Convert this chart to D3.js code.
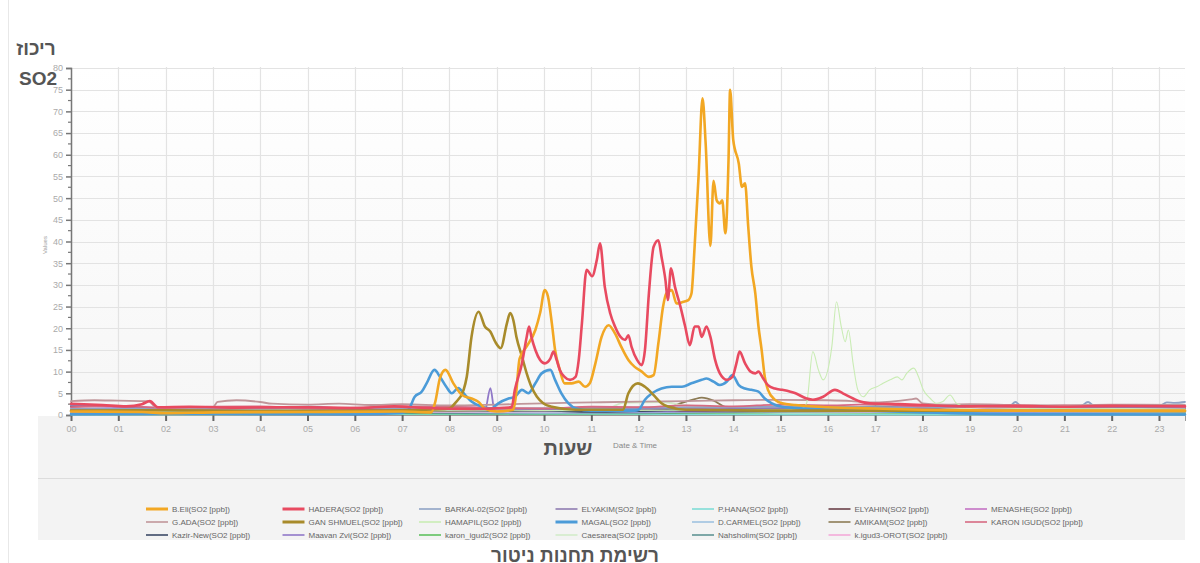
<!DOCTYPE html>
<html>
<head>
<meta charset="utf-8">
<script src="https://cdn.jsdelivr.net/npm/d3@7"></script>
<style>
  html, body { margin: 0; padding: 0; background: #fff; }
  svg { display: block; font-family: "Liberation Sans", Arial, "DejaVu Sans", sans-serif; }
</style>
</head>
<body>
<svg id="chart" width="1200" height="563"></svg>
<script>
// SO2 readings [ppb] per monitoring station, as [time, value]
const bEli = [["00:00",0.8],["01:30",0.7],["02:00",0.4],["03:00",0.6],["05:00",0.7],["07:00",0.8],["07:37",0.6],["07:42",3.0],["07:48",8.5],["07:55",10.4],["08:05",7.3],["08:16",4.6],["08:28",3.8],["08:37",3.0],["08:45",1.5],["09:00",0.8],["09:21",1.2],["09:24",4.0],["09:29",13.0],["09:38",15.8],["09:49",19.6],["09:55",23.5],["10:01",28.8],["10:05",27.3],["10:10",21.0],["10:14",15.0],["10:20",10.4],["10:26",7.3],["10:35",7.3],["10:44",7.7],["10:52",6.5],["10:58",7.3],["11:05",11.8],["11:13",18.0],["11:22",20.7],["11:30",18.8],["11:38",15.7],["11:47",12.7],["11:55",11.1],["12:04",10.0],["12:13",8.8],["12:19",9.2],["12:25",16.5],["12:31",25.0],["12:35",28.0],["12:42",28.8],["12:48",25.7],["12:55",26.0],["13:03",26.5],["13:07",28.0],["13:11",38.8],["13:16",55.0],["13:21",73.0],["13:25",62.6],["13:31",39.0],["13:35",54.0],["13:39",49.5],["13:43",48.8],["13:46",49.5],["13:50",41.9],["13:54",58.8],["13:56",75.0],["14:00",63.4],["14:07",58.0],["14:11",52.6],["14:15",53.4],["14:19",43.4],["14:23",34.2],["14:28",28.0],["14:32",20.4],["14:36",15.0],["14:40",8.8],["14:44",5.8],["14:53",3.5],["15:02",2.7],["15:19",2.3],["16:00",1.8],["17:00",1.5],["18:00",1.2],["20:00",1.0],["23:33",1.0]];
const hadera = [["00:00",2.6],["00:40",2.3],["01:10",2.0],["01:30",2.5],["01:40",3.2],["01:50",1.8],["02:30",1.9],["03:30",1.7],["05:00",1.8],["06:00",1.6],["06:50",2.0],["07:30",1.6],["08:30",1.4],["09:15",1.7],["09:19",1.9],["09:23",5.8],["09:32",11.9],["09:38",18.0],["09:41",20.4],["09:44",18.0],["09:49",15.0],["09:55",12.7],["10:01",11.9],["10:08",13.0],["10:12",14.6],["10:16",12.7],["10:20",10.4],["10:26",8.8],["10:33",8.1],["10:40",8.8],["10:44",12.7],["10:48",21.0],["10:54",33.5],["11:01",32.0],["11:07",35.8],["11:11",39.6],["11:17",29.6],["11:24",23.4],["11:30",20.4],["11:37",18.0],["11:43",17.3],["11:47",18.4],["11:51",15.7],["11:58",12.7],["12:04",11.5],["12:08",15.0],["12:13",28.0],["12:19",38.8],["12:25",40.3],["12:29",36.5],["12:34",31.1],["12:37",26.5],["12:41",33.8],["12:46",29.6],["12:53",25.0],["12:59",20.4],["13:05",16.1],["13:11",20.4],["13:16",20.4],["13:20",18.0],["13:26",20.4],["13:31",18.0],["13:37",12.7],["13:43",9.6],["13:52",8.1],["13:59",8.8],["14:04",11.9],["14:08",14.6],["14:15",11.9],["14:22",10.0],["14:28",9.6],["14:32",10.0],["14:38",8.4],["14:44",6.9],["14:53",6.1],["15:02",5.8],["15:19",5.0],["15:33",3.8],["15:41",3.5],["15:54",4.2],["16:09",5.8],["16:19",5.0],["16:32",3.8],["16:41",3.1],["16:53",2.7],["17:30",2.5],["18:00",2.3],["19:00",2.0],["20:00",2.1],["21:00",1.9],["22:00",2.1],["23:33",2.0]];
const ganShmuel = [["00:00",1.0],["02:00",1.1],["04:00",0.9],["06:00",1.0],["07:30",1.2],["08:00",1.5],["08:07",2.7],["08:18",5.8],["08:22",8.8],["08:28",18.0],["08:37",23.8],["08:45",20.4],["08:52",19.2],["08:58",16.9],["09:05",15.4],["09:13",21.2],["09:17",23.5],["09:21",21.9],["09:25",18.0],["09:32",13.5],["09:38",9.6],["09:44",6.5],["09:51",4.2],["09:59",2.7],["10:10",1.9],["10:40",1.2],["11:40",1.2],["11:47",5.0],["11:59",7.3],["12:08",6.5],["12:19",4.6],["12:29",2.7],["12:38",1.9],["13:00",1.2],["15:00",1.0],["18:00",1.0],["23:33",0.9]];
const magal = [["00:00",0.2],["03:00",0.3],["06:00",0.2],["07:00",0.5],["07:08",1.2],["07:16",4.2],["07:25",5.4],["07:31",7.3],["07:41",10.4],["07:48",8.8],["07:56",6.5],["08:03",5.0],["08:11",6.2],["08:20",4.6],["08:28",3.1],["08:41",1.9],["08:53",1.5],["09:02",2.7],["09:15",3.8],["09:23",4.2],["09:32",5.8],["09:40",5.0],["09:49",7.3],["09:57",9.6],["10:08",10.4],["10:14",8.1],["10:22",5.0],["10:31",2.7],["10:41",1.5],["11:00",1.0],["11:55",1.0],["12:00",1.2],["12:08",3.5],["12:17",5.0],["12:29",6.1],["12:42",6.5],["12:55",6.5],["13:07",7.3],["13:20",8.1],["13:26",8.4],["13:35",7.7],["13:43",6.9],["13:52",7.7],["13:59",9.2],["14:07",6.9],["14:15",6.1],["14:23",5.8],["14:32",5.4],["14:40",3.8],["14:49",2.7],["15:02",1.9],["15:30",1.5],["16:00",1.3],["18:00",0.6],["20:00",0.2],["23:33",0.1]];
const hamapil = [["00:00",0.8],["05:00",0.9],["10:00",1.0],["15:00",1.2],["15:27",1.5],["15:33",2.7],["15:41",14.6],["15:48",10.4],["15:54",8.1],["16:05",15.7],["16:11",26.1],["16:17",20.4],["16:22",16.9],["16:26",19.6],["16:32",11.9],["16:38",5.8],["16:45",4.2],["16:53",5.8],["17:02",6.5],["17:10",7.3],["17:19",8.1],["17:28",8.8],["17:34",8.1],["17:40",9.6],["17:49",10.8],["17:55",8.8],["18:01",5.8],["18:10",3.8],["18:18",2.7],["18:26",3.1],["18:35",4.6],["18:43",2.7],["18:56",1.9],["20:00",1.5],["23:33",1.4]];
const gAda = [["00:00",3.2],["00:30",3.4],["01:00",3.3],["01:38",3.2],["01:48",1.8],["02:30",1.7],["03:00",1.8],["03:06",3.0],["03:30",3.4],["04:00",3.0],["04:15",2.6],["05:00",2.4],["05:40",2.6],["06:20",2.3],["07:00",2.5],["08:00",2.2],["09:00",2.4],["10:00",2.7],["11:00",2.9],["12:00",3.1],["13:00",3.2],["14:00",3.4],["15:00",3.5],["16:00",3.4],["16:30",3.2],["16:50",2.9],["17:20",3.1],["17:45",3.6],["17:52",3.8],["18:00",2.7],["18:30",2.4],["19:00",2.5],["20:00",2.3],["21:00",2.2],["22:00",2.4],["23:33",2.3]];
const karonIgud = [["00:00",1.8],["01:00",2.1],["02:00",1.6],["03:00",1.9],["04:00",2.0],["05:00",1.6],["06:00",1.7],["07:00",2.0],["08:00",1.9],["09:00",1.6],["10:00",1.5],["11:00",1.9],["12:00",1.8],["13:00",2.2],["14:00",2.0],["15:00",2.4],["16:00",2.2],["17:00",2.5],["18:00",2.0],["19:00",2.3],["20:00",1.8],["21:00",2.2],["22:00",2.0],["23:00",2.3],["23:33",1.9]];
const menashe = [["00:00",1.3],["00:45",1.6],["01:30",1.8],["02:15",1.3],["03:00",1.2],["04:00",1.7],["05:00",1.5],["06:00",1.2],["07:00",1.3],["08:00",1.8],["09:00",1.6],["10:00",1.2],["11:00",1.4],["12:00",1.7],["13:00",1.5],["14:00",1.3],["15:00",1.7],["16:00",1.9],["17:00",1.6],["18:00",2.0],["19:00",1.8],["20:00",1.5],["21:00",1.6],["22:00",1.9],["23:33",1.7]];
const elyahin = [["00:00",1.2],["01:00",0.9],["02:00",1.0],["03:00",1.4],["04:00",1.3],["05:00",0.9],["06:00",1.1],["07:00",1.3],["08:00",0.9],["09:00",1.2],["10:00",1.1],["11:00",1.4],["12:00",1.3],["13:00",1.0],["14:00",1.2],["15:00",1.6],["16:00",1.5],["17:00",2.0],["18:00",1.8],["19:00",2.1],["20:00",1.6],["21:00",1.9],["22:00",1.7],["23:00",2.0],["23:33",1.6]];
const elyakim = [["00:00",2.2],["01:00",2.0],["02:00",1.4],["03:00",1.7],["04:00",1.6],["05:00",1.9],["06:00",1.4],["07:00",1.6],["08:00",1.2],["09:00",1.5],["10:00",1.3],["11:00",1.6],["12:00",1.4],["13:00",1.7],["14:00",1.6],["15:00",1.4],["16:00",1.3],["17:00",1.7],["18:00",1.5],["19:00",1.9],["20:00",1.7],["21:00",1.5],["22:00",1.8],["23:33",1.6]];
const kazirNew = [["00:00",2.0],["00:45",2.1],["01:20",1.6],["02:00",1.1],["03:00",0.8],["04:00",0.9],["05:00",1.2],["06:00",1.0],["07:00",0.8],["08:00",1.2],["09:00",0.9],["10:00",1.0],["11:00",0.7],["12:00",0.9],["13:00",1.2],["14:00",1.1],["15:00",0.9],["16:00",1.2],["17:00",1.4],["18:00",1.3],["19:00",1.0],["20:00",1.1],["21:00",1.4],["22:00",1.2],["23:33",1.3]];
const barkai = [["00:00",1.5],["03:00",1.4],["06:00",1.6],["09:00",1.5],["12:00",1.7],["15:00",1.9],["18:00",1.8],["19:50",2.0],["19:58",3.0],["20:05",2.1],["21:20",2.0],["21:30",3.0],["21:38",2.1],["23:00",2.1],["23:10",2.9],["23:20",2.8],["23:33",3.0]];
const dCarmel = [["00:00",0.6],["02:00",0.4],["04:00",0.5],["06:00",0.8],["08:00",0.7],["10:00",0.5],["12:00",0.6],["14:00",0.9],["16:00",0.8],["18:00",0.6],["20:00",0.7],["22:00",0.5],["23:33",0.6]];
const pHana = [["00:00",0.1],["06:00",0.2],["12:00",0.2],["18:00",0.1],["23:33",0.1]];
const amikam = [["00:00",1.0],["02:00",1.2],["04:00",0.8],["06:00",1.1],["08:00",1.0],["10:00",1.2],["12:30",1.1],["12:50",2.5],["13:10",3.6],["13:20",4.0],["13:35",3.3],["13:50",1.8],["14:10",1.2],["17:00",1.1],["20:00",1.0],["23:33",1.0]];
const maavanZvi = [["00:00",0.8],["04:00",0.7],["08:00",0.9],["08:45",1.0],["08:52",6.2],["08:57",1.2],["12:00",0.8],["16:00",0.9],["20:00",0.8],["23:33",0.9]];
const karonIgud2 = [["00:00",0.4],["03:00",0.6],["06:00",0.5],["09:00",0.3],["12:00",0.4],["15:00",0.6],["18:00",0.5],["21:00",0.7],["23:33",0.4]];
const caesarea = [["00:00",1.2],["06:00",1.1],["11:20",1.5],["11:40",2.8],["12:30",3.0],["13:00",2.2],["15:00",1.5],["18:00",1.4],["23:33",1.3]];
const nahsholim = [["00:00",0.5],["03:00",0.7],["06:00",0.6],["09:00",0.4],["12:00",0.5],["15:00",0.8],["18:00",0.7],["21:00",0.5],["23:33",0.6]];
const kIgud3 = [["00:00",0.8],["06:00",0.7],["12:00",0.9],["18:00",0.8],["23:33",0.9]];

// Legend order (row by row) with the data each entry draws
const stationNames = ["B.Eli","HADERA","BARKAI-02","ELYAKIM","P.HANA","ELYAHIN","MENASHE",
  "G.ADA","GAN SHMUEL","HAMAPIL","MAGAL","D.CARMEL","AMIKAM","KARON IGUD",
  "Kazir-New","Maavan Zvi","karon_igud2","Caesarea","Nahsholim","k.igud3-OROT"];
const stationData = [bEli, hadera, barkai, elyakim, pHana, elyahin, menashe,
  gAda, ganShmuel, hamapil, magal, dCarmel, amikam, karonIgud,
  kazirNew, maavanZvi, karonIgud2, caesarea, nahsholim, kIgud3];
const stationColors = ["#f2a723","#e84a60","#8fa3c4","#8f7cb0","#7fdcd6","#6a3f48","#c372c3",
  "#c0969a","#a88b2b","#c9ecb4","#4b9bd8","#9fc2e0","#8c7b55","#d66a82",
  "#3c4a66","#9078c8","#5fc05f","#d2ebca","#5f9494","#f3aad8"];
const boldStations = ["B.Eli","HADERA","GAN SHMUEL","MAGAL"];
const drawOrder = ["P.HANA","karon_igud2","Nahsholim","D.CARMEL","k.igud3-OROT","Maavan Zvi","AMIKAM","ELYAHIN","Kazir-New",
  "Caesarea","MENASHE","ELYAKIM","BARKAI-02","KARON IGUD","G.ADA","HAMAPIL","MAGAL","GAN SHMUEL","B.Eli","HADERA"];

const yTicks = d3.range(0, 81, 5);
const yMinor = d3.range(0, 80.1, 2.5);

const parseT = d3.timeParse("%H:%M");
const svg = d3.select("#chart");

const x = d3.scaleTime().domain([parseT("00:00"), parseT("23:33")]).range([71, 1185]);
const y = d3.scaleLinear().domain([0, 80]).range([415, 68]);

// Panels
svg.append("rect").attr("x", 38).attr("y", 416).attr("width", 1147).attr("height", 124).attr("fill", "#f3f3f3");
svg.append("line").attr("x1", 38).attr("x2", 1185).attr("y1", 478.5).attr("y2", 478.5).attr("stroke", "#dcdcdc");

const grad = svg.append("defs").append("linearGradient").attr("id", "plotBg").attr("x1", 0).attr("x2", 0).attr("y1", 0).attr("y2", 1);
grad.append("stop").attr("offset", "0%").attr("stop-color", "#ffffff");
grad.append("stop").attr("offset", "100%").attr("stop-color", "#f6f6f6");
svg.append("rect").attr("x", 71).attr("y", 67).attr("width", 1114).attr("height", 348).attr("fill", "url(#plotBg)");

// Grid
const hours = x.ticks(d3.timeHour.every(1));
svg.append("g").selectAll("line").data(hours).join("line")
  .attr("x1", d => Math.round(x(d)) + 0.5).attr("x2", d => Math.round(x(d)) + 0.5)
  .attr("y1", 67).attr("y2", 415).attr("stroke", "#e3e3e3").attr("stroke-width", 1.2);
svg.append("g").selectAll("line").data(yTicks).join("line")
  .attr("x1", 71).attr("x2", 1185)
  .attr("y1", d => Math.round(y(d)) + 0.5).attr("y2", d => Math.round(y(d)) + 0.5)
  .attr("stroke", "#e3e3e3").attr("stroke-width", 1.2);

// Axes
const yAxis = svg.append("g").attr("transform", "translate(71,0)")
  .call(d3.axisLeft(y).tickValues(yTicks).tickSize(5).tickPadding(3));
yAxis.select(".domain").attr("stroke", "#777").attr("stroke-width", 1.5);
yAxis.selectAll(".tick line").attr("stroke", "#777").attr("stroke-width", 1.5);
yAxis.selectAll("text").attr("fill", "#aaa").attr("font-size", 9).attr("font-family", "Liberation Sans Narrow, Liberation Sans, sans-serif");
svg.append("g").selectAll("line").data(yMinor.filter(v => v % 5 !== 0)).join("line")
  .attr("x1", 68).attr("x2", 71).attr("y1", d => y(d)).attr("y2", d => y(d))
  .attr("stroke", "#777").attr("stroke-width", 1.2);

const xAxis = svg.append("g").attr("transform", "translate(0,415)")
  .call(d3.axisBottom(x).ticks(d3.timeHour.every(1)).tickFormat(d3.timeFormat("%H")).tickSize(6).tickPadding(5));
xAxis.select(".domain").attr("stroke", "#999");
xAxis.selectAll(".tick line").attr("stroke", "#666").attr("stroke-width", 2);
xAxis.selectAll("text").attr("fill", "#aaa").attr("font-size", 9).attr("font-family", "Liberation Sans Narrow, Liberation Sans, sans-serif");

// Series
const line = d3.line()
  .x(d => x(parseT(d[0])))
  .y(d => y(d[1]))
  .curve(d3.curveMonotoneX);

const plot = svg.append("g");
drawOrder.forEach(name => {
  const i = stationNames.indexOf(name);
  const bold = boldStations.includes(name);
  plot.append("path")
    .datum(stationData[i])
    .attr("d", line)
    .attr("fill", "none")
    .attr("stroke", stationColors[i])
    .attr("stroke-width", bold ? 2.6 : (name === "HAMAPIL" ? 1.1 : 1.8))
    .attr("stroke-linejoin", "round")
    .attr("stroke-linecap", "round");
});

// Axis titles
svg.append("text").attr("x", 613).attr("y", 448).attr("font-size", 8).attr("fill", "#888").text("Date & Time");
svg.append("text").attr("transform", "translate(47,245) rotate(-90)").attr("text-anchor", "middle")
  .attr("font-size", 6).attr("fill", "#999").text("Values");

// Legend
const legend = svg.append("g");
stationNames.forEach((name, i) => {
  const col = i % 7, row = Math.floor(i / 7);
  const lx = 146 + col * 136.5, ly = 509 + row * 13;
  const bold = boldStations.includes(name);
  legend.append("line").attr("x1", lx).attr("x2", lx + 22).attr("y1", ly).attr("y2", ly)
    .attr("stroke", stationColors[i]).attr("stroke-width", bold ? 3 : 1.6);
  legend.append("text").attr("x", lx + 26).attr("y", ly + 3).attr("font-size", 8).attr("fill", "#666")
    .text(name + "(SO2 [ppb])");
});

svg.append("rect").attr("x", 0).attr("y", 540).attr("width", 1200).attr("height", 23).attr("fill", "#fff");

// Hebrew captions
const heb = { "font-family": "Liberation Sans, DejaVu Sans, sans-serif", "font-weight": "bold", "fill": "#555" };
function caption(txt, cx, cy, size) {
  const t = svg.append("text").attr("x", cx).attr("y", cy).attr("text-anchor", "middle").attr("font-size", size).text(txt);
  Object.entries(heb).forEach(([k, v]) => t.attr(k, v));
}
caption("ריכוז", 36, 55, 19);
caption("SO2", 38, 85, 19);
caption("שעות", 568, 455, 20);
caption("רשימת תחנות ניטור", 575, 562, 19);

svg.append("line").attr("x1", 8.5).attr("x2", 8.5).attr("y1", 0).attr("y2", 563).attr("stroke", "#e8e8e8");
</script>
</body>
</html>
